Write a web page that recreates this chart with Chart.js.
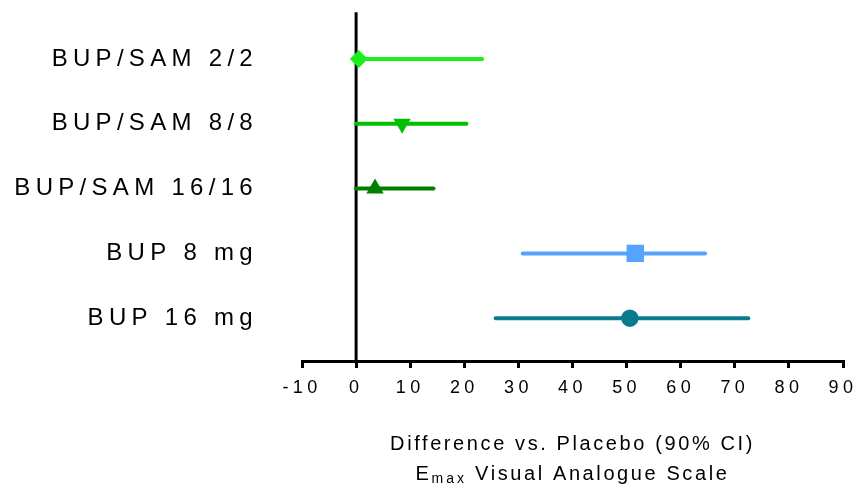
<!DOCTYPE html>
<html>
<head>
<meta charset="utf-8">
<script src="https://cdn.jsdelivr.net/npm/chart.js@4.4.1/dist/chart.umd.min.js"></script>
<style>
    html, body { margin: 0; padding: 0; background: #fff; }
</style>
</head>
<body>
<canvas id="forest" width="856" height="484"></canvas>
<script>

// values
const groups = ["BUP/SAM 2/2", "BUP/SAM 8/8", "BUP/SAM 16/16", "BUP 8 mg", "BUP 16 mg"];
const estimates = [0.5, 8.5, 3.5, 51.6, 50.6];
const lowerCI = [0, 0, 0, 30.8, 25.8];
const upperCI = [23.3, 20.4, 14.3, 64.5, 72.5];
const xTicks = [-10, 0, 10, 20, 30, 40, 50, 60, 70, 80, 90];

const colors = ["#1cf01c", "#00c000", "#008000", "#55a2ff", "#0a7b8f"];
const markers = ["rectRot", "triangle", "triangle", "rect", "circle"];
const markerRot = [0, 180, 0, 0, 0];
const markerSize = [9, 10, 10, 12.3, 8.7];

const yMin = 0.28;
const yMax = 5.66;
const rows = groups.map((g, i) => i + 1);

const FONT = "'Liberation Sans', Arial, sans-serif";

let datasets = [];

// markers on top
groups.forEach((g, i) => {
    datasets.push({
        label: g,
        data: [{ x: estimates[i], y: rows[i] }],
        pointStyle: markers[i],
        pointRotation: markerRot[i],
        pointRadius: markerSize[i],
        backgroundColor: colors[i],
        borderColor: colors[i],
        borderWidth: 0,
        showLine: false,
        order: 0
    });
});

// CI lines
groups.forEach((g, i) => {
    datasets.push({
        label: g + " CI",
        data: [{ x: lowerCI[i], y: rows[i] }, { x: upperCI[i], y: rows[i] }],
        borderColor: colors[i],
        borderWidth: 4,
        borderCapStyle: "round",
        pointRadius: 0,
        showLine: true,
        order: 1
    });
});

// line of no difference
datasets.push({
    label: "zero",
    data: [{ x: 0, y: yMin }, { x: 0, y: yMax }],
    borderColor: "#000",
    borderWidth: 3,
    pointRadius: 0,
    showLine: true,
    clip: false,
    order: 2
});

const tickSpacing = { x: "4.4px", y: "5.3px" };

const letterSpacingPlugin = {
    id: "letterSpacing",
    beforeDraw(chart) {
        ["x", "y"].forEach(id => {
            const s = chart.scales[id];
            if (s && !s._spaced) {
                const orig = s.drawLabels.bind(s);
                s.drawLabels = function (area) {
                    this.ctx.save();
                    this.ctx.letterSpacing = tickSpacing[id];
                    orig(area);
                    this.ctx.restore();
                };
                s._spaced = true;
            }
        });
    }
};

// x axis title, two lines, second one with subscript
const axisTitle = {
    id: "axisTitle",
    afterDraw(chart) {
        const ctx = chart.ctx;
        const cx = (chart.chartArea.left + chart.chartArea.right) / 2;
        const big = "20px " + FONT;
        const small = "14px " + FONT;
        ctx.save();
        ctx.fillStyle = "#000";
        ctx.textBaseline = "alphabetic";
        ctx.textAlign = "left";
        ctx.letterSpacing = "2.6px";

        ctx.font = big;
        const line1 = "Difference vs. Placebo (90% CI)";
        let w = ctx.measureText(line1).width;
        ctx.fillText(line1, cx - w / 2, 450);

        const wE = ctx.measureText("E").width;
        const wRest = ctx.measureText(" Visual Analogue Scale").width;
        ctx.font = small;
        ctx.letterSpacing = "3px";
        const wSub = ctx.measureText("max").width;
        let x = cx - (wE + wSub + wRest) / 2;
        ctx.font = big;
        ctx.letterSpacing = "2.6px";
        ctx.fillText("E", x, 480);
        x += wE;
        ctx.font = small;
        ctx.letterSpacing = "3px";
        ctx.fillText("max", x, 483);
        x += wSub;
        ctx.font = big;
        ctx.letterSpacing = "2.6px";
        ctx.fillText(" Visual Analogue Scale", x, 480);
        ctx.restore();
    }
};

new Chart(document.getElementById("forest"), {
    type: "scatter",
    data: { datasets: datasets },
    options: {
        responsive: false,
        animation: false,
        layout: { padding: { top: 10, right: 13, left: 0, bottom: 0 } },
        plugins: {
            legend: { display: false },
            tooltip: { enabled: false }
        },
        scales: {
            x: {
                type: "linear",
                min: -10,
                max: 90,
                afterBuildTicks: s => { s.ticks = xTicks.map(v => ({ value: v })); },
                afterFit: s => { s.height = 123; s.paddingLeft = 0; s.paddingRight = 0; },
                border: { display: true, color: "#000", width: 3 },
                grid: {
                    drawOnChartArea: false,
                    drawTicks: true,
                    tickLength: 7,
                    color: "#000",
                    lineWidth: 3
                },
                ticks: {
                    color: "#000",
                    padding: 9,
                    maxRotation: 0,
                    font: { family: FONT, size: 18 }
                }
            },
            y: {
                type: "linear",
                reverse: true,
                min: yMin,
                max: yMax,
                afterBuildTicks: s => { s.ticks = rows.map(v => ({ value: v })); },
                afterFit: s => { s.width = 302; s.paddingTop = 0; s.paddingBottom = 0; },
                border: { display: false },
                grid: { display: false, drawTicks: false },
                ticks: {
                    color: "#000",
                    padding: 44,
                    font: { family: FONT, size: 24 },
                    callback: v => groups[v - 1]
                }
            }
        }
    },
    plugins: [letterSpacingPlugin, axisTitle]
});
</script>
</body>
</html>
